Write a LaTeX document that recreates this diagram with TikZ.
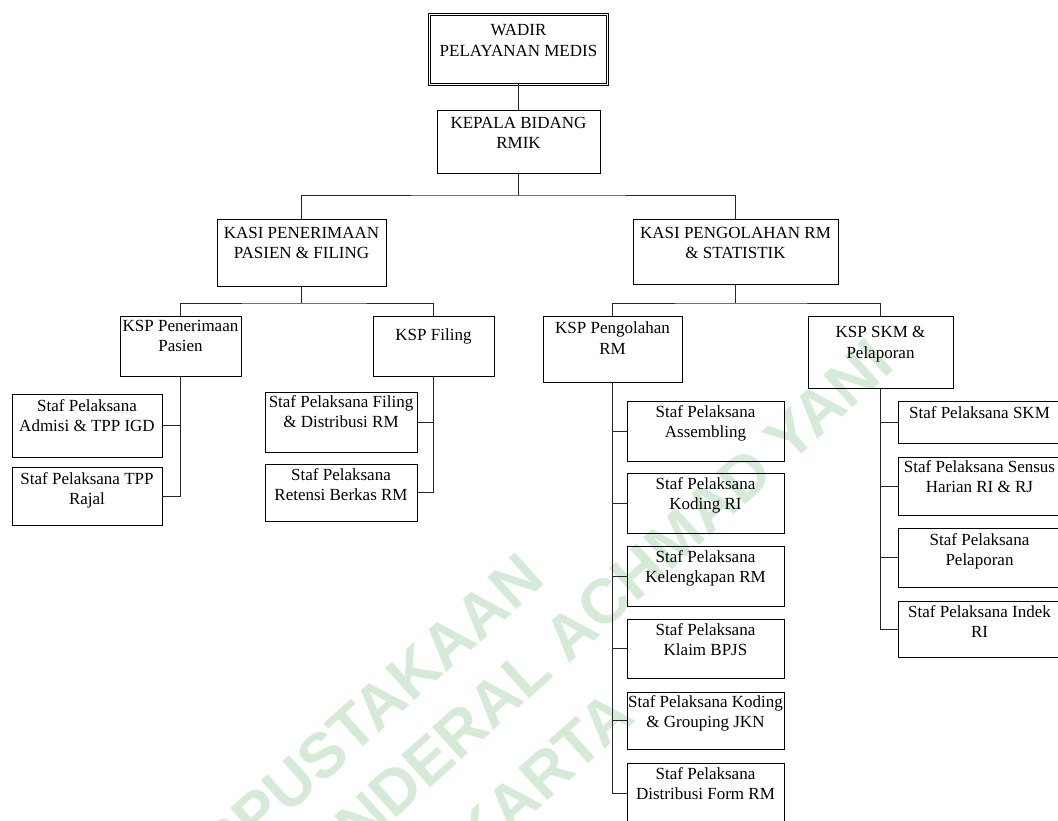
\documentclass[tikz,border=0pt]{standalone}
\usepackage{fontspec}
\setmainfont{Liberation Serif}
\newfontfamily\wmfont{Liberation Sans}
\definecolor{wmgreen}{RGB}{213,235,215}
\newcommand\orgbox[7]{%
  \node[box, minimum width={(#4)-(#2)}, minimum height={(#5)-(#3)}] (#1) at (#2,#3) {};
  \node[lbl] (#1t) at ([yshift=-#7pt]#1.north) {#6};
}
\begin{document}
\begin{tikzpicture}[x=1pt,y=-1pt,
  box/.style={draw=black, line width=0.9pt, inner sep=0pt, outer sep=0pt, anchor=north west},
  lbl/.style={font=\fontsize{17}{20.5}\selectfont, align=center, inner sep=0pt, anchor=north},
  link/.style={draw=black!85, line width=0.9pt},
  wm/.style={font=\wmfont\bfseries\fontsize{63}{63}\selectfont, text=wmgreen, inner sep=0pt, anchor=base east, rotate=42}
]
\useasboundingbox (0,0) rectangle (1058,821);

% watermark
\node[wm] (wm1) at (547,582) {PERPUSTAKAAN};
\node[wm] (wm2) at (897,368) {UNIVERSITAS JENDERAL ACHMAD YANI};
\node[wm] (wm3) at (637,720) {YOGYAKARTA};

% top
\node[box, double, double distance=1.4pt, line width=0.8pt, minimum width=178pt, minimum height=70pt] (wadir) at (429.5,14.5) {};
\node[lbl] (wadirt) at ([yshift=-10pt]wadir.north) {WADIR\\PELAYANAN MEDIS};
\orgbox{kepala}{437}{110}{600}{173}{KEPALA BIDANG\\RMIK}{7}
\orgbox{kasi1}{217}{219}{386}{286}{KASI PENERIMAAN\\PASIEN \& FILING}{8}
\orgbox{kasi2}{633}{219}{838}{284}{KASI PENGOLAHAN RM\\\& STATISTIK}{8}

% KSP level
\orgbox{ksp1}{120}{316}{241}{376}{KSP Penerimaan\\Pasien}{4}
\orgbox{kspf}{373}{316}{494}{376}{KSP Filing}{13}
\orgbox{ksp3}{543}{316}{682}{382}{KSP Pengolahan\\RM}{6}
\orgbox{ksp4}{808}{316}{953}{388}{KSP SKM \&\\Pelaporan}{10}

% staff left
\orgbox{s1}{12}{394}{162}{457}{Staf Pelaksana\\Admisi \& TPP IGD}{5}
\orgbox{s2}{12}{467}{162}{525}{Staf Pelaksana TPP\\Rajal}{5}
\orgbox{f1}{265}{392}{417}{452}{Staf Pelaksana Filing\\\& Distribusi RM}{3}
\orgbox{f2}{265}{464}{417}{521}{Staf Pelaksana\\Retensi Berkas RM}{4}

% staff middle
\orgbox{m1}{627}{401}{784}{461}{Staf Pelaksana\\Assembling}{4}
\orgbox{m2}{627}{473}{784}{533}{Staf Pelaksana\\Koding RI}{4}
\orgbox{m3}{627}{546}{784}{606}{Staf Pelaksana\\Kelengkapan RM}{4}
\orgbox{m4}{627}{619}{784}{678}{Staf Pelaksana\\Klaim BPJS}{4}
\orgbox{m5}{627}{692}{784}{749}{Staf Pelaksana Koding\\\& Grouping JKN}{3}
\orgbox{m6}{627}{763}{784}{823}{Staf Pelaksana\\Distribusi Form RM}{4}

% staff right
\orgbox{r1}{898}{401}{1061}{443}{Staf Pelaksana SKM}{5}
\orgbox{r2}{898}{457}{1061}{515}{Staf Pelaksana Sensus\\Harian RI \& RJ}{3}
\orgbox{r3}{898}{528}{1061}{587}{Staf Pelaksana\\Pelaporan}{5}
\orgbox{r4}{898}{601}{1061}{657}{Staf Pelaksana Indek\\RI}{4}

% connectors
\coordinate (j0) at (518.5,195);
\coordinate (j1) at (301.5,303);
\coordinate (j2) at (735.5,303);
\draw[link] (wadir.south) -- (kepala.north);
\draw[link] (kepala.south) -- (j0);
\draw[link] (kasi1.north) |- (j0) -| (kasi2.north);
\draw[link] (kasi1.south) -- (j1);
\draw[link] (ksp1.north) |- (j1) -| (kspf.north);
\draw[link] (kasi2.south) -- (j2);
\draw[link] (ksp3.north) |- (j2) -| (ksp4.north);

\draw[link] (ksp1.south) |- (s1.east);
\draw[link] (ksp1.south) |- (s2.east);
\draw[link] (kspf.south) |- (f1.east);
\draw[link] (kspf.south) |- (f2.east);

\draw[link, line width=1.7pt] (ksp3.south) -- (ksp3.south |- m4.west);
\foreach \m in {m1,m2,m3,m4,m5,m6} {\draw[link] (ksp3.south) |- (\m.west);}
\foreach \r in {r1,r2,r3,r4} {\draw[link] (ksp4.south) |- (\r.west);}
\end{tikzpicture}
\end{document}
